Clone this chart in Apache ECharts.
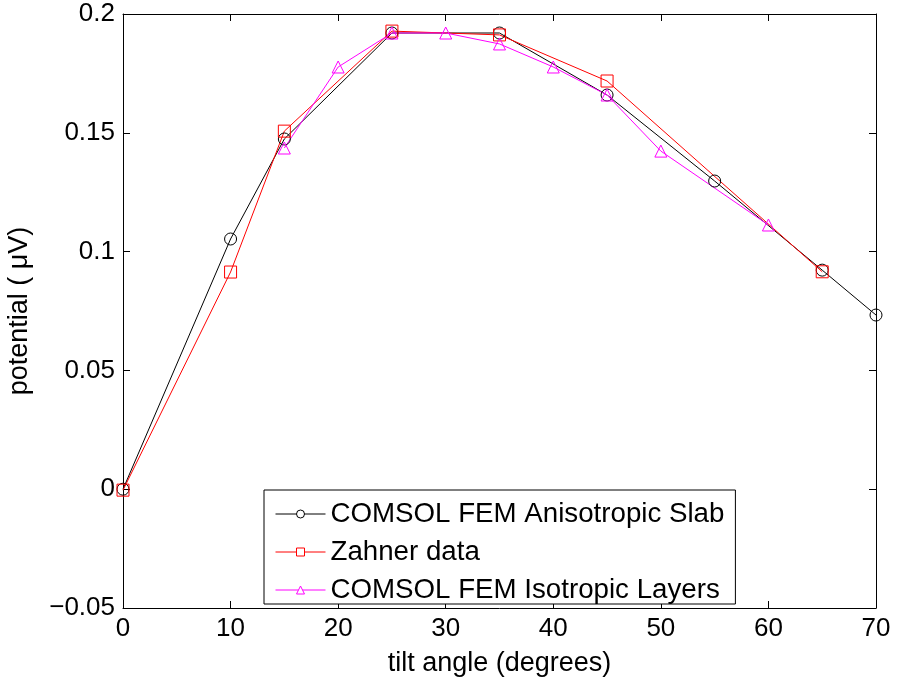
<!DOCTYPE html>
<html>
<head>
<meta charset="utf-8">
<script src="https://cdn.jsdelivr.net/npm/echarts@6/dist/echarts.min.js"></script>
<style>html,body{margin:0;padding:0;background:#fff;}#c{width:897px;height:677px;}</style>
</head>
<body>
<div id="c"></div>
<script>
const seriesNames = ['COMSOL FEM Anisotropic Slab', 'Zahner data', 'COMSOL FEM Isotropic Layers'];
const anisoX = [0, 10, 15, 25, 35, 45, 55, 65, 70];
const anisoY = [0, 0.1053, 0.1474, 0.192, 0.192, 0.1659, 0.1297, 0.0922, 0.0733];
const zahnerX = [0, 10, 15, 25, 35, 45, 65];
const zahnerY = [-0.0004, 0.0914, 0.1507, 0.1928, 0.1912, 0.1718, 0.0915];
const isoX = [15, 20, 25, 30, 35, 40, 45, 50, 60];
const isoY = [0.1436, 0.1777, 0.192, 0.192, 0.1874, 0.1777, 0.1659, 0.1423, 0.1112];
const xTicks = [0, 10, 20, 30, 40, 50, 60, 70];
const yTickLabels = {'-0.05': '\u22120.05', '0': '0', '0.05': '0.05', '0.1': '0.1', '0.15': '0.15', '0.2': '0.2'};

const pairs = (xs, ys) => xs.map((x, i) => [x, ys[i]]);
const FONT = 'Liberation Sans';
const chart = echarts.init(document.getElementById('c'), null, {renderer: 'canvas'});
const axisLine = () => ({show: true, onZero: false, lineStyle: {color: '#000', width: 1}});
const tick = () => ({show: true, inside: true, length: 7, lineStyle: {color: '#000', width: 1}});
const mk = (name, data, color, symbol) => ({
  name, type: 'line', data, symbol, symbolSize: 12, showSymbol: true,
  lineStyle: {color, width: 1}, itemStyle: {color: 'transparent', borderColor: color, borderWidth: 1},
  emphasis: {disabled: true}, animation: false, z: 3
});
chart.setOption({
  animation: false,
  textStyle: {fontFamily: FONT},
  grid: {left: 123, top: 14, right: 21, bottom: 69, containLabel: false, outerBoundsMode: 'none'},
  xAxis: [{
    type: 'value', min: 0, max: 70, interval: 10, position: 'bottom',
    name: 'tilt angle (degrees)', nameLocation: 'middle', nameGap: 42,
    nameTextStyle: {fontSize: 27, color: '#000', fontFamily: FONT},
    axisLine: axisLine(), axisTick: tick(), splitLine: {show: false},
    axisLabel: {fontSize: 26, color: '#000', margin: 8, fontFamily: FONT,
      formatter: v => xTicks.includes(v) ? String(v) : ''}
  }, {
    type: 'value', min: 0, max: 70, interval: 10, position: 'top',
    axisLine: axisLine(), axisTick: tick(), splitLine: {show: false}, axisLabel: {show: false}
  }],
  yAxis: [{
    type: 'value', min: -0.05, max: 0.2, interval: 0.05, position: 'left',
    name: 'potential ( \u03bcV)', nameLocation: 'middle', nameGap: 90, nameRotate: 90,
    nameTextStyle: {fontSize: 27, color: '#000', fontFamily: FONT},
    axisLine: axisLine(), axisTick: tick(), splitLine: {show: false},
    axisLabel: {fontSize: 26, color: '#000', margin: 8, fontFamily: FONT,
      formatter: v => { const k = String(Math.round(v * 100) / 100); return yTickLabels[k] !== undefined ? yTickLabels[k] : k; }}
  }, {
    type: 'value', min: -0.05, max: 0.2, interval: 0.05, position: 'right',
    axisLine: axisLine(), axisTick: tick(), splitLine: {show: false}, axisLabel: {show: false}
  }],
  legend: {
    show: true, orient: 'vertical', left: 264, top: 490,
    backgroundColor: '#fff', borderColor: '#000', borderWidth: 1,
    padding: [10, 11, 0, 11], itemGap: 10, itemWidth: 50, itemHeight: 10,
    lineStyle: {width: 1},
    itemStyle: {color: '#fff', borderWidth: 1},
    textStyle: {fontSize: 27.7, color: '#000', fontFamily: FONT},
    data: seriesNames
  },
  series: [
    mk(seriesNames[0], pairs(anisoX, anisoY), '#000000', 'circle'),
    mk(seriesNames[1], pairs(zahnerX, zahnerY), '#ff0000', 'rect'),
    mk(seriesNames[2], pairs(isoX, isoY), '#ff00ff', 'triangle')
  ]
});
</script>
</body>
</html>
